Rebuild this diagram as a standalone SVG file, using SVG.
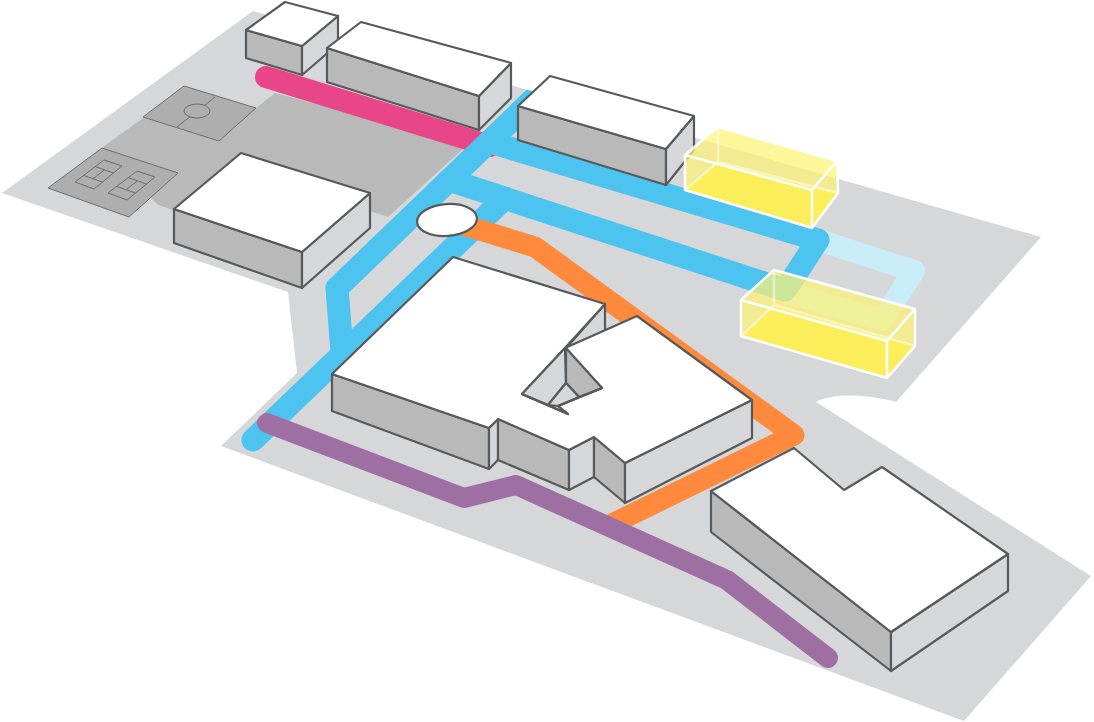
<svg xmlns="http://www.w3.org/2000/svg" width="1094" height="722" viewBox="0 0 1094 722">
<style>
.b{stroke:#58595b;stroke-width:2.2;stroke-linejoin:round}
.t{fill:#fff}.d{fill:#b9b9b9}.l{fill:#d6d7d9}
.f{fill:#aeaeae;stroke:#6d6e70;stroke-width:1}
.r{fill:none;stroke-linejoin:round}
.y{fill:#fdf374;fill-opacity:.72;stroke:none}
.yf{fill:#fbee5a;stroke:none}
.ye{fill:none;stroke:#fff;stroke-width:2.5;stroke-linejoin:round}
</style>
<defs>
<clipPath id="g"><path d="M253,11L1041,237L896,402C870,395 835,392 816,402L1091,576L964,721L221,446L297,373L288,292L2,193Z"/></clipPath>
<g id="court"><path class="f" d="M104,160L122,166L94,189L75,182Z"/><path class="f" d="M95.3,166.6L113.6,173M83.7,175.4L102.4,182.1M104.5,169.8L93,178.8"/></g>
</defs>
<path id="ground" class="l" d="M253,11L1041,237L896,402C870,395 835,392 816,402L1091,576L964,721L221,446L297,373L288,292L2,193Z"/>
<g id="paved"><path fill="#b9b9b9" d="M103,147L143,118L256,108L275,93L480,147L463,149L388,217L370,211L302,240L220,225L158,205Z"/></g>
<g id="soccer-field"><path class="f" d="M184,86L256,108L219,141L143,117Z"/><path class="f" d="M215,97L177,127"/><ellipse class="f" fill="none" cx="197" cy="111" rx="13" ry="7"/></g>
<g id="tennis-courts"><path class="f" d="M102,148L178,173L129,217L48,188Z"/><use href="#court"/><use href="#court" x="33" y="11"/></g>
<g id="connectors">
<path class="r" stroke="#e9468a" stroke-width="22" stroke-linecap="round" d="M266,77L490,146"/>
<path class="r" stroke="#c8edf9" stroke-width="22" stroke-linecap="round" d="M818,240L914,271L882,320L785,292"/>
<g clip-path="url(#g)"><path class="r" stroke="#4dc3f0" stroke-width="23" stroke-linecap="round" d="M253,440L505,198M342,352L337,288L545,88M490,142L818,240L786,289M449,180L785,290"/></g>
<path class="r" stroke="#ff8a3d" stroke-width="21" d="M447,220L535,247L794,435L612,524"/>
<path class="r" stroke="#9e6fa3" stroke-width="20" stroke-linecap="round" d="M267,423L464,498L516,485L727,580L828,658"/>
</g>
<g id="building-small">
<path class="b d" d="M246,30L302,46V75L246,58Z"/><path class="b l" d="M302,46L338,16V44L302,75Z"/><path class="b t" d="M246,30L285,2L338,16L302,46Z"/>
</g>
<g id="building-long">
<path class="b d" d="M327,48L479,96V130L327,82Z"/><path class="b l" d="M479,96L511,63V98L479,130Z"/><path class="b t" d="M327,48L361,22L511,63L479,96Z"/>
</g>
<g id="building-north">
<path class="b d" d="M518,106L666,149V185L518,140Z"/><path class="b l" d="M666,149L694,116V150L666,185Z"/><path class="b t" d="M518,106L550,76L694,116L666,149Z"/>
</g>
<g id="building-west">
<path class="b d" d="M174,209L302,252V288L174,243Z"/><path class="b l" d="M302,252L370,193V228L302,288Z"/><path class="b t" d="M174,209L241,153L370,193L302,252Z"/>
</g>
<g id="building-main">
<path class="b d" d="M332,374L489,428V469L332,411Z"/>
<path class="b l" d="M489,428L498,419V460L489,469Z"/>
<path class="b d" d="M498,419L569,450V490L498,460Z"/>
<path class="b l" d="M569,450L594,437V477L569,490Z"/>
<path class="b d" d="M594,437L625,463V503L594,477Z"/>
<path class="b l" d="M625,463L752,400V438L625,503Z"/>
<path class="b l" d="M605,304V340L560,355Z"/>
<path class="b t" d="M332,374L453,257L605,304L565,348L522,394L568,414L558,406L602,388L565,348L637,316L752,400L625,463L594,437L569,450L498,419L489,428Z"/>
<path class="b l" d="M522,394L565,348L566,383L548,405Z"/>
<path class="b d" d="M566,348L602,388L579,397L566,383Z"/>
<path class="b l" d="M566,383L579,397L558,406L548,405Z"/>
<path class="b" fill="none" d="M522,394L568,414L558,406L602,388"/>
</g>
<g id="building-southeast">
<path class="b d" d="M711,491L891,632V671L711,532Z"/><path class="b l" d="M891,632L1008,554V591L891,671Z"/><path class="b t" d="M711,491L794,448L844,490L882,467L1008,554L891,632Z"/>
</g>
<g id="plaza-oval"><ellipse class="b t" cx="447" cy="220" rx="30" ry="16" transform="rotate(-4 447 220)"/></g>
<g id="new-building-1">
<path class="y" d="M685,155L718,127L837,161L838,193L812,228L685,190Z"/>
<path class="yf" d="M685,190L718,162L838,193L812,228Z"/>
<path class="ye" d="M685,155L718,127L837,161L812,190L685,155V190L812,228L838,193L837,161M812,190V228"/>
<path class="ye" stroke-opacity=".5" stroke-width="1.5" d="M718,127V162L838,193M718,162L685,190"/>
</g>
<g id="new-building-2">
<path class="y" d="M741,300L774,270L915,309L915,346L887,378L741,336Z"/>
<path class="yf" d="M741,336L774,305L915,346L887,378Z"/>
<path class="ye" d="M741,300L774,270L915,309L887,341L741,300V336L887,378L915,346V309M887,341V378"/>
<path class="ye" stroke-opacity=".5" stroke-width="1.5" d="M774,270V305L915,346M774,305L741,336"/>
</g>
</svg>
